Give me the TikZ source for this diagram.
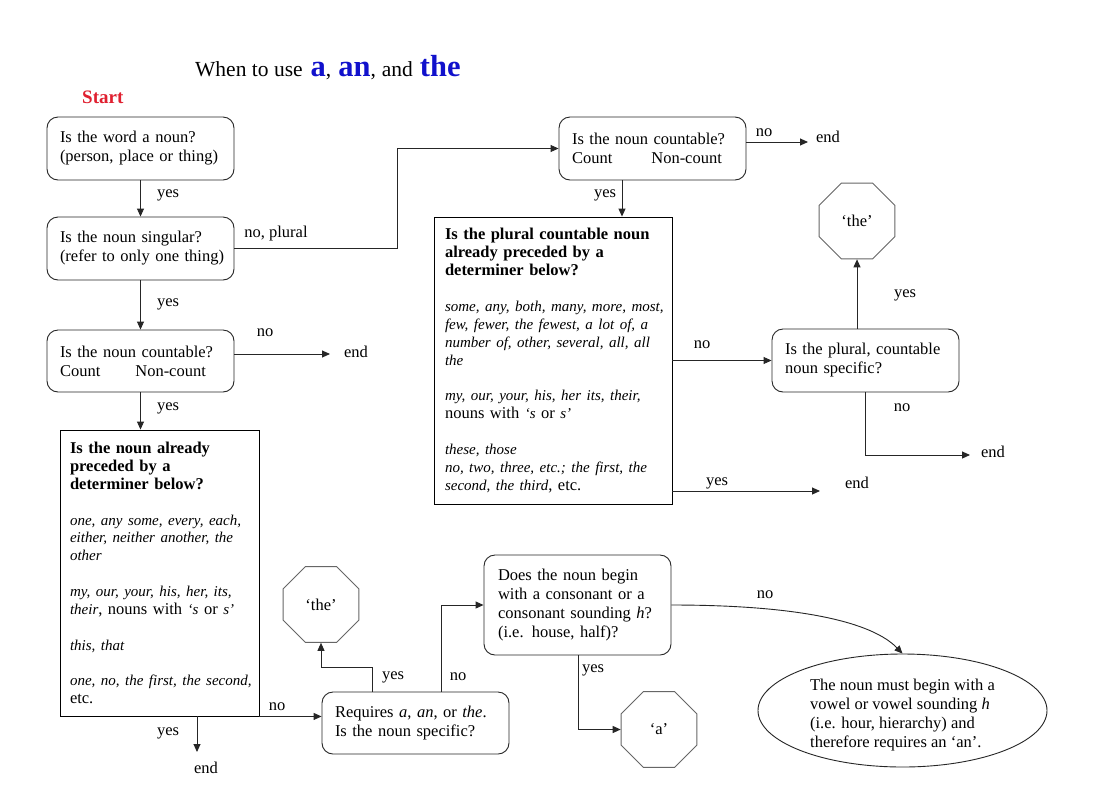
\documentclass[tikz,border=0pt]{standalone}
\usepackage{fontspec}
\setmainfont{Liberation Serif}
\usetikzlibrary{arrows.meta,shapes.geometric}
\definecolor{titleblue}{HTML}{1111CC}
\definecolor{startred}{HTML}{E02030}
\newcommand\detit{\fontsize{15}{17.8}\selectfont\itshape}
\newcommand\lx[1]{\mbox{#1}}
\newcommand\li[1]{\mbox{\detit #1}}
\newcommand\bigb[1]{{\color{titleblue}\bfseries\fontsize{30.5}{32}\selectfont #1}}
\begin{document}
\begin{tikzpicture}[x=1pt,y=-1pt,
  every node/.style={font=\fontsize{16.5}{19}\selectfont},
  rbox/.style={draw=black!85, line width=0.9pt, rounded corners=11pt, align=left,
    inner xsep=13pt, inner ysep=0pt, text width=161pt, minimum height=63pt},
  sbox/.style={draw=black, line width=0.9pt, align=left, inner ysep=0pt,
    font=\fontsize{16.5}{17.9}\selectfont},
  octo/.style={draw=black!60, line width=0.9pt, regular polygon, regular polygon sides=8,
    minimum size=82pt, inner sep=0pt},
  arr/.style={draw=black!85, line width=0.9pt, -{Triangle[length=8pt,width=7pt]}},
  lbl/.style={inner sep=0pt}
]
\fill[white] (0,0) rectangle (1111,796);
\useasboundingbox (0,0) rectangle (1111,796);

% title
\node[anchor=base west, inner sep=0pt] (title) at (195,76)
  {\fontsize{21.5}{24}\selectfont When to use\hspace{8pt}\bigb{a},\hspace{7pt}\bigb{an},\hspace{6pt}and\hspace{7pt}\bigb{the}};
\node[anchor=base west, inner sep=0pt, text=startred, font=\bfseries\fontsize{19}{22}\selectfont] (start) at (82,103) {Start};

% left column
\node[rbox] (A) at (140.5,148.5) {\lx{Is the word a noun?}\\\lx{(person, place or thing)}};
\node[rbox] (B) at (140.5,248.5) {\lx{Is the noun singular?}\\\lx{(refer to only one thing)}};
\node[rbox, minimum height=62pt] (C) at (140.5,361) {\lx{Is the noun countable?}\\\lx{Count\hspace{35pt}Non-count}};
\node[sbox, inner xsep=10pt, text width=179pt, minimum height=286pt] (D) at (159.5,573)
  {\lx{\bfseries Is the noun already}\\\lx{\bfseries preceded by a}\\\lx{\bfseries determiner below?}\\[17.8pt]
   \li{one, any some, every, each,}\\\li{either, neither another, the}\\\li{other}\\[17.8pt]
   \li{my, our, your, his, her, its,}\\\lx{{\detit their}, nouns with {\detit ‘s} or {\detit s’}}\\[17.8pt]
   \li{this, that}\\[17.8pt]
   \li{one, no, the first, the second,}\\\lx{etc.}};

% bottom middle
\node[rbox, minimum height=62pt] (E) at (415.5,723) {\lx{Requires \textit{a}, \textit{an}, or \textit{the}.}\\\lx{Is the noun specific?}};
\node[octo] (octL) at (321,604.5) {‘the’};
\node[rbox, inner xsep=14pt, text width=159pt, minimum height=100pt] (F) at (577.5,605)
  {\lx{Does the noun begin}\\\lx{with a consonant or a}\\\lx{consonant sounding \textit{h}?}\\\lx{(i.e. house, half)?}};
\node[octo] (octA) at (659,729.5) {‘a’};
\node[ellipse, draw=black!85, line width=0.9pt, minimum width=289pt, minimum height=113pt,
  inner sep=0pt] (ell) at (902.5,710.5)
  {\raisebox{-9pt}[0pt][0pt]{\begin{tabular}{@{}l@{}}The noun must begin with a\\vowel or vowel sounding \textit{h}\\(i.e. hour, hierarchy) and\\therefore requires an ‘an’.\end{tabular}}};

% right part
\node[rbox] (G) at (652.5,148.5) {\lx{Is the noun countable?}\\\lx{Count\hspace{39pt}Non-count}};
\node[sbox, inner xsep=11pt, text width=216pt, minimum height=287pt] (H) at (553,360.5)
  {\lx{\bfseries Is the plural countable noun}\\\lx{\bfseries already preceded by a}\\\lx{\bfseries determiner below?}\\[17.8pt]
   \li{some, any, both, many, more, most,}\\\li{few, fewer, the fewest, a lot of, a}\\\li{number of, other, several, all, all}\\\li{the}\\[17.8pt]
   \li{my, our, your, his, her its, their,}\\\lx{nouns with {\detit ‘s} or {\detit s’}}\\[17.8pt]
   \li{these, those}\\\li{no, two, three, etc.; the first, the}\\\lx{{\detit second, the third}, etc.}};
\node[rbox] (I) at (865.5,360.5) {\lx{Is the plural, countable}\\\lx{noun specific?}};
\node[octo] (octR) at (857,221) {‘the’};

% end texts
\node[lbl] (endC) at (356,352) {end};
\node[lbl] (endD) at (206,768) {end};
\node[lbl] (endG) at (828,137) {end};
\node[lbl] (endH) at (857,483) {end};
\node[lbl] (endI) at (993,452) {end};

% helper coordinates
\coordinate (tipC) at (330,354);
\coordinate (tipD) at (197,752);
\coordinate (tipG) at (808,142);
\coordinate (tipH) at (820,491);
\coordinate (tipI) at (970,455);
\coordinate (eL) at (372,667);
\coordinate (eR) at (441,667);
\coordinate (fY) at (578,700);
\coordinate (bgx) at (397,200);
\coordinate (gh) at (622,200);
\coordinate (iY) at (865,455);

% connectors
\draw[arr] (A.south) -- (B.north);
\draw[arr] (B.south) -- (C.north);
\draw[arr] (C.east |- tipC) -- (tipC);
\draw[arr] (C.south) -- (C.south |- D.north);
\draw[arr] (tipD |- D.south) -- (tipD);
\draw[arr] (D.south east) -- (D.south east -| E.west);
\draw[arr] (eL |- E.north) -- (eL) -| (octL.south);
\draw[arr] (eR |- E.north) |- (F.west);
\draw[arr] (fY |- F.south) |- (octA.west);
\draw[arr] (F.east) .. controls (800,605) and (872,622) .. (ell.north);
\draw[arr] (B.east) -- (B.east -| bgx) |- (G.west);
\draw[arr] (G.east |- tipG) -- (tipG);
\draw[arr] (gh |- G.south) -- (gh |- H.north);
\draw[arr] (H.east |- I.west) -- (I.west);
\draw[arr] (H.east |- tipH) -- (tipH);
\draw[arr] (octR.south |- I.north) -- (octR.south);
\draw[arr] (iY |- I.south) -- (iY) -- (tipI);

% connector labels
\node[lbl] at (168,195) {yes};
\node[lbl] at (276,234) {no, plural};
\node[lbl] at (168,304) {yes};
\node[lbl] at (265,333) {no};
\node[lbl] at (168,408) {yes};
\node[lbl] at (168,733) {yes};
\node[lbl] at (277,707) {no};
\node[lbl] at (393,677) {yes};
\node[lbl] at (458,677) {no};
\node[lbl] at (593,670) {yes};
\node[lbl] at (765,595) {no};
\node[lbl] at (764,133) {no};
\node[lbl] at (605,195) {yes};
\node[lbl] at (702,345) {no};
\node[lbl] at (717,483) {yes};
\node[lbl] at (905,295) {yes};
\node[lbl] at (902,408) {no};
\end{tikzpicture}
\end{document}
